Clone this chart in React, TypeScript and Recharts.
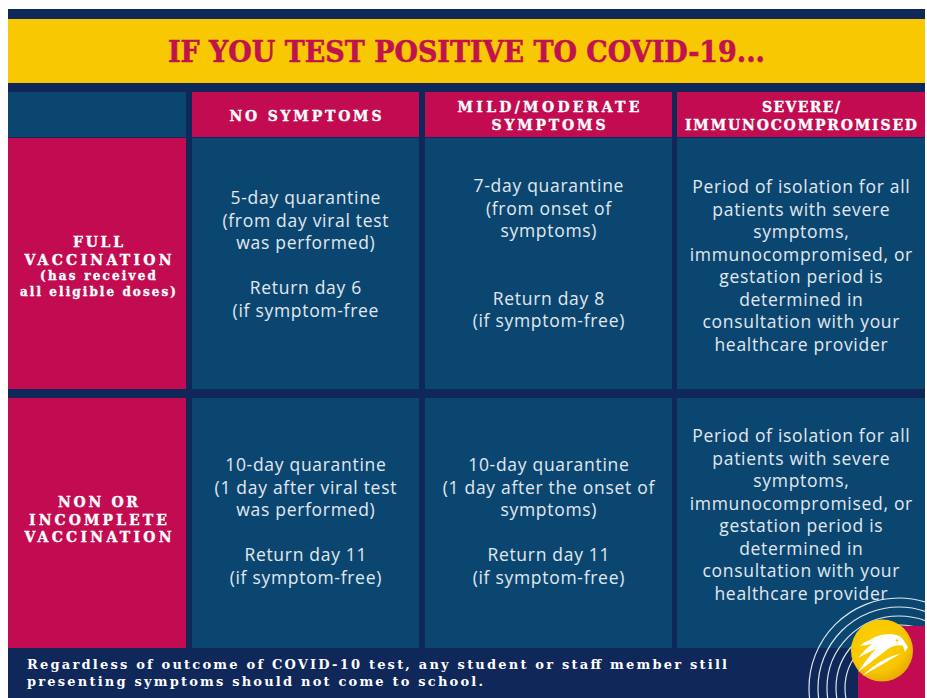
import React from 'react';
import { ComposedChart, XAxis, YAxis, ReferenceArea } from 'recharts';

// ---------- content ----------
const title = 'IF YOU TEST POSITIVE TO COVID-19...';
const columnHeaders: string[][] = [
  [],
  ['NO SYMPTOMS'],
  ['MILD/MODERATE', 'SYMPTOMS'],
  ['SEVERE/', 'IMMUNOCOMPROMISED'],
];
const rowLabels: string[][] = [
  ['FULL', 'VACCINATION'],
  ['NON OR', 'INCOMPLETE', 'VACCINATION'],
];
const rowSubLabels: string[][] = [['(has received', 'all eligible doses)'], []];
const severeCellLines: string[] = [
  'Period of isolation for all',
  'patients with severe',
  'symptoms,',
  'immunocompromised, or',
  'gestation period is',
  'determined in',
  'consultation with your',
  'healthcare provider',
];
const fullVaccinationCells: string[][] = [
  ['5-day quarantine', '(from day viral test', 'was performed)', '', 'Return day 6', '(if symptom-free'],
  ['7-day quarantine', '(from onset of', 'symptoms)', '', '', 'Return day 8', '(if symptom-free)'],
  severeCellLines,
];
const nonVaccinationCells: string[][] = [
  ['10-day quarantine', '(1 day after viral test', 'was performed)', '', 'Return day 11', '(if symptom-free)'],
  ['10-day quarantine', '(1 day after the onset of', 'symptoms)', '', 'Return day 11', '(if symptom-free)'],
  severeCellLines,
];
const bodyRows: string[][][] = [fullVaccinationCells, nonVaccinationCells];
const footerLines: string[] = [
  'Regardless of outcome of COVID-10 test, any student or staff member still',
  'presenting symptoms should not come to school.',
];

// ---------- layout ----------
const W = 927;
const H = 698;
const FRAME = { x1: 8, x2: 925, y1: 9, y2: 698 };
const BANNER = { y1: 19, y2: 83, baseline: 62, width: 597, size: 29 };
const COLS: [number, number][] = [[8, 186], [192, 419], [425, 672], [677, 925]];
const ROWS: [number, number][] = [[92, 137], [138, 389], [398, 648]];
const headerWidths: number[][] = [[], [152], [182, 114], [78, 232]];
const rowLabelWidths: number[][] = [[50, 147], [80, 138, 147]];
const rowSubWidths: number[][] = [[116, 156], []];
const bodyFirstCenter = [[198, 186, 187], [465, 465, 436]];
const rowLabelFirstBaseline = [247, 507];
const FOOTER = { x: 27, baselines: [669, 686], widths: [700, 456], size: 13 };
const LOGO = { x1: 800, x2: 925, y1: 590, y2: 698 };

// ---------- style ----------
const NAVY = '#10275a';
const CELL = '#0b4671';
const CRIMSON = '#c20b50';
const YELLOW = '#f8c802';
const TITLE_RED = '#c1124f';
const BODY_TEXT = '#e1e8ef';
const SERIF = "'DejaVu Serif', serif";
const SANS = "'Open Sans', sans-serif";

const HEAD_SIZE = 14;
const HEAD_STEP = 18;
const SUB_SIZE = 12;
const SUB_STEP = 15.5;
const BODY_SIZE = 17.5;
const BODY_SPACING = 0.7;
const BODY_STEP = 22.5;

type P = { x: number; y: number; width: number; height: number };

const fitted = (
  text: string,
  cx: number,
  y: number,
  size: number,
  width: number,
  key: string | number
) => (
  <text
    key={key}
    x={cx}
    y={y}
    textAnchor="middle"
    fontFamily={SERIF}
    fontWeight="bold"
    fontSize={size}
    fill="#ffffff"
    stroke="#ffffff"
    strokeWidth={0.35}
    textLength={width}
    lengthAdjust="spacing"
  >
    {text}
  </text>
);

const headerShape = (ci: number) => (p: P) => {
  const lines = columnHeaders[ci];
  const cx = p.x + p.width / 2;
  const mid = p.y + p.height / 2 + 6;
  const first = mid - ((lines.length - 1) * HEAD_STEP) / 2;
  return (
    <g>
      <rect x={p.x} y={p.y} width={p.width} height={p.height} fill={ci === 0 ? CELL : CRIMSON} />
      {lines.map((t, i) => fitted(t, cx, first + i * HEAD_STEP, HEAD_SIZE, headerWidths[ci][i], i))}
    </g>
  );
};

const rowLabelShape = (ri: number) => (p: P) => {
  const cx = p.x + p.width / 2 + 1;
  const top = ROWS[ri + 1][0];
  const b0 = p.y + (rowLabelFirstBaseline[ri] - top);
  const main = rowLabels[ri];
  const sub = rowSubLabels[ri];
  const step = HEAD_STEP - 0.5;
  const lastMain = b0 + (main.length - 1) * step;
  return (
    <g>
      <rect x={p.x} y={p.y} width={p.width} height={p.height} fill={CRIMSON} />
      {main.map((t, i) => fitted(t, cx, b0 + i * step, HEAD_SIZE, rowLabelWidths[ri][i], 'm' + i))}
      {sub.map((t, i) => fitted(t, cx, lastMain + (i + 1) * SUB_STEP, SUB_SIZE, rowSubWidths[ri][i], 's' + i))}
    </g>
  );
};

const bodyShape = (ri: number, ci: number) => (p: P) => {
  const cx = p.x + p.width / 2;
  const top = ROWS[ri + 1][0];
  const c0 = p.y + (bodyFirstCenter[ri][ci - 1] - top);
  const lines = bodyRows[ri][ci - 1];
  return (
    <g>
      <rect x={p.x} y={p.y} width={p.width} height={p.height} fill={CELL} />
      {lines.map((t, i) =>
        t ? (
          <text
            key={i}
            x={cx + BODY_SPACING / 2}
            y={c0 + i * BODY_STEP + 6}
            textAnchor="middle"
            fontFamily={SANS}
            fontSize={BODY_SIZE}
            letterSpacing={BODY_SPACING}
            fill={BODY_TEXT}
          >
            {t}
          </text>
        ) : null
      )}
    </g>
  );
};

const bannerShape = (p: P) => (
  <g>
    <rect x={p.x} y={p.y} width={p.width} height={p.height} fill={YELLOW} />
    <text
      x={p.x + p.width / 2}
      y={p.y + (BANNER.baseline - BANNER.y1)}
      textAnchor="middle"
      fontFamily={SERIF}
      fontWeight="bold"
      fontSize={BANNER.size}
      fill={TITLE_RED}
      stroke={TITLE_RED}
      strokeWidth={0.6}
      textLength={BANNER.width}
      lengthAdjust="spacingAndGlyphs"
    >
      {title}
    </text>
  </g>
);

const frameShape = (p: P) => <rect x={p.x} y={p.y} width={p.width} height={p.height} fill={NAVY} />;

const footerShape = (p: P) => (
  <g>
    {footerLines.map((t, i) => (
      <text
        key={i}
        x={FOOTER.x - FRAME.x1 + p.x}
        y={p.y + (FOOTER.baselines[i] - ROWS[2][1])}
        fontFamily={SERIF}
        fontWeight="bold"
        fontSize={FOOTER.size}
        fill="#ffffff"
        textLength={FOOTER.widths[i]}
        lengthAdjust="spacing"
      >
        {t}
      </text>
    ))}
  </g>
);

const logoShape = (p: P) => {
  const ox = p.x - LOGO.x1;
  const oy = p.y - LOGO.y1;
  const radii = [90, 81, 72, 63, 54];
  return (
    <g transform={`translate(${ox},${oy})`}>
      <defs>
        <clipPath id="logoClip">
          <rect x={LOGO.x1 - 20} y={LOGO.y1 - 20} width={LOGO.x2 - LOGO.x1 + 20} height={LOGO.y2 - LOGO.y1 + 20} />
        </clipPath>
        <radialGradient id="sunGrad" cx="0.4" cy="0.35" r="0.7">
          <stop offset="0%" stopColor="#fdd000" />
          <stop offset="70%" stopColor="#f7c600" />
          <stop offset="100%" stopColor="#e4a800" />
        </radialGradient>
      </defs>
      <g clipPath="url(#logoClip)">
        {radii.map((r) => (
          <circle key={r} cx={899} cy={688} r={r} fill="none" stroke="#dfe6ee" strokeWidth={1.2} />
        ))}
        <rect x={858} y={626} width={90} height={90} rx={14} fill={CRIMSON} />
        <circle cx={882} cy={650.5} r={31} fill="url(#sunGrad)" />
        <path
          d="M870 640 C880 633 895 632 902 638 L908 647 L905 652 L903 646 C897 644 890 647 884 652 C876 658 866 666 858 672 C866 660 872 653 876 649 C868 652 862 656 858 658 C864 651 868 647 872 644 C866 645 862 646 860 646 C864 642 867 641 870 640 Z"
          fill="#ffffff"
        />
        <path d="M862 676 C875 664 888 656 900 654 C890 660 876 668 862 676 Z" fill="#ffffff" />
        <circle cx={897} cy={640.5} r={1.2} fill={YELLOW} />
      </g>
    </g>
  );
};

export default function App() {
  return (
    <div style={{ position: 'fixed', left: 0, top: 0, width: W, height: H, background: '#ffffff' }}>
      <ComposedChart width={W} height={H} margin={{ top: 0, right: 0, bottom: 0, left: 0 }} data={[]}>
        <XAxis type="number" dataKey="x" domain={[0, W]} hide allowDataOverflow />
        <YAxis type="number" dataKey="y" domain={[0, H]} reversed hide allowDataOverflow />
        <ReferenceArea x1={FRAME.x1} x2={FRAME.x2} y1={FRAME.y1} y2={FRAME.y2} shape={frameShape} ifOverflow="visible" />
        <ReferenceArea x1={FRAME.x1} x2={FRAME.x2} y1={BANNER.y1} y2={BANNER.y2} shape={bannerShape} ifOverflow="visible" />
        {COLS.map((c, ci) => (
          <ReferenceArea key={'h' + ci} x1={c[0]} x2={c[1]} y1={ROWS[0][0]} y2={ROWS[0][1]} shape={headerShape(ci)} ifOverflow="visible" />
        ))}
        {[0, 1].map((ri) =>
          COLS.map((c, ci) => (
            <ReferenceArea
              key={'r' + ri + '-' + ci}
              x1={c[0]}
              x2={c[1]}
              y1={ROWS[ri + 1][0]}
              y2={ROWS[ri + 1][1]}
              shape={ci === 0 ? rowLabelShape(ri) : bodyShape(ri, ci)}
              ifOverflow="visible"
            />
          ))
        )}
        <ReferenceArea x1={FRAME.x1} x2={FRAME.x2} y1={ROWS[2][1]} y2={FRAME.y2} shape={footerShape} ifOverflow="visible" />
        <ReferenceArea x1={LOGO.x1} x2={LOGO.x2} y1={LOGO.y1} y2={LOGO.y2} shape={logoShape} ifOverflow="visible" />
      </ComposedChart>
    </div>
  );
}
